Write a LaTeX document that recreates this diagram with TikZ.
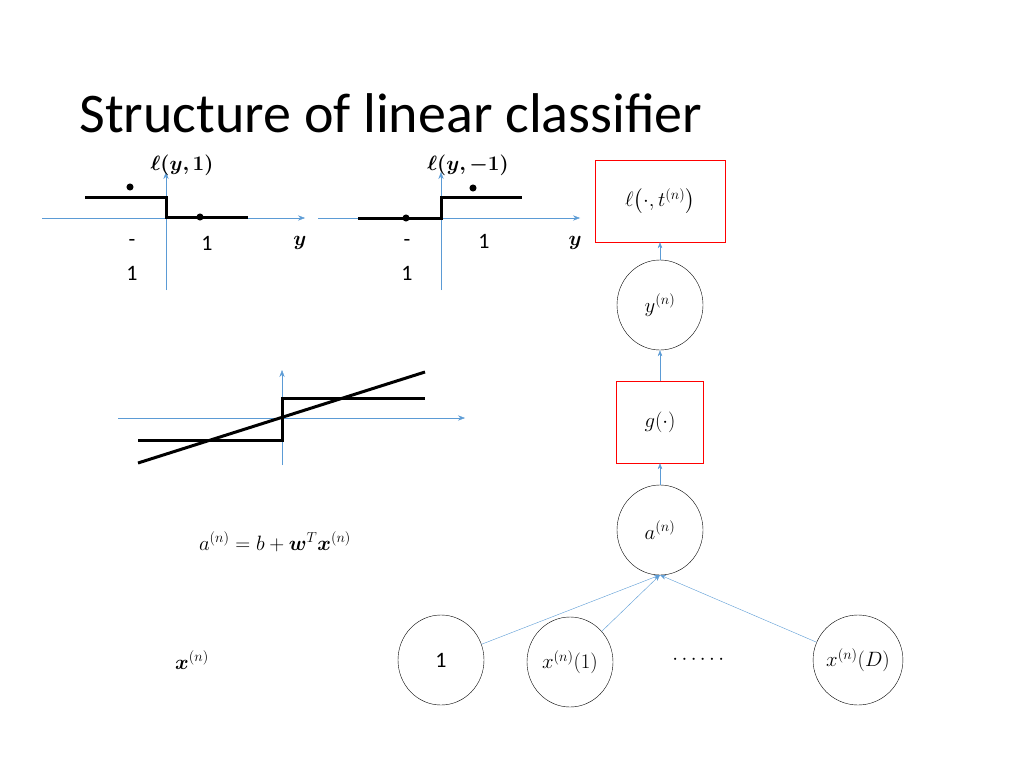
\documentclass[tikz,border=0pt]{standalone}
\usepackage{amsmath,bm}
\usepackage{fontspec}
\setmainfont{Carlito}
\usetikzlibrary{arrows.meta}
\definecolor{axblue}{RGB}{91,155,213}
\tikzset{
  ax/.style={draw=axblue,-{Stealth[length=7pt]}},
  stepline/.style={line width=3pt},
  dot/.style={circle,fill=black,inner sep=2.5pt},
  unit/.style={draw,ellipse,minimum width=86pt,minimum height=90pt,inner sep=0pt},
  redbox/.style={draw=red,inner sep=0pt},
  link/.style={draw=axblue,-{Stealth[length=6pt]}},
  lab/.style={font=\fontsize{22}{24}\selectfont}
}
\usetikzlibrary{shapes.geometric}
\begin{document}
\begin{tikzpicture}[x=1pt,y=-1pt]
\useasboundingbox (0,0) rectangle (1024,768);
\node[anchor=west,font=\fontsize{56}{60}\selectfont] (title) at (76,113) {Structure of linear classifier};
%first loss
\draw[ax] (42,218) -- (305,218);
\draw[ax] (166,290) -- (166,172);
\draw[stepline] (85,197) -- (166,197) -- (166,217) -- (248,217);
\node[dot] (d1) at (130,187) {};
\node[dot] (d2) at (200,217) {};
\node[lab] (l1) at (182,165) {$\bm{\ell(y,1)}$};
\node[lab] (m1) at (132,243) {-};
\node[lab] (o1) at (132,273) {1};
\node[lab] (p1) at (207,243) {1};
\node[lab] (y1) at (300,243) {$\bm{y}$};
%second loss
\draw[ax] (318,218) -- (580,218);
\draw[ax] (441,290) -- (441,172);
\draw[stepline] (358,218) -- (441,218) -- (441,197) -- (522,197);
\node[dot] (d3) at (406,218) {};
\node[dot] (d4) at (473,188) {};
\node[lab] (l2) at (468,165) {$\bm{\ell(y,-1)}$};
\node[lab] (m2) at (407,243) {-};
\node[lab] (o2) at (407,273) {1};
\node[lab] (p2) at (484,241) {1};
\node[lab] (y2) at (575,243) {$\bm{y}$};
%middle plot
\draw[ax] (118,418) -- (465,418);
\draw[ax] (282,465) -- (282,370);
\draw[stepline] (138,440) -- (282,440) -- (282,398) -- (425,398);
\draw[stepline] (138,463) -- (425,372);
\node[lab] (eq) at (275,542) {$a^{(n)}=b+\bm{w}^T\bm{x}^{(n)}$};
\node[lab] (xn) at (192,660) {$\bm{x}^{(n)}$};
%network
\node[redbox,lab,minimum width=130pt,minimum height=82pt] (loss) at (660,201) {$\ell\big(\cdot,t^{(n)}\big)$};
\node[unit,lab] (yn) at (660,305) {$y^{(n)}$};
\node[redbox,lab,minimum width=87pt,minimum height=82pt] (g) at (660,422) {$g(\cdot)$};
\node[unit,lab] (an) at (660,530) {$a^{(n)}$};
\node[unit,lab] (x0) at (441,660) {1};
\node[unit,lab] (x1) at (570,662) {$x^{(n)}(1)$};
\node[lab] (dots) at (700,660) {$\cdots\cdots$};
\node[unit,lab] (xd) at (858,660) {$x^{(n)}(D)$};
\coordinate (in) at (660,575);
\draw[link] (yn) -- (loss);
\draw[link] (g) -- (yn);
\draw[link] (an) -- (g);
\foreach \s in {x0,x1,xd} \draw[link] (\s) -- (in);
\end{tikzpicture}
\end{document}
